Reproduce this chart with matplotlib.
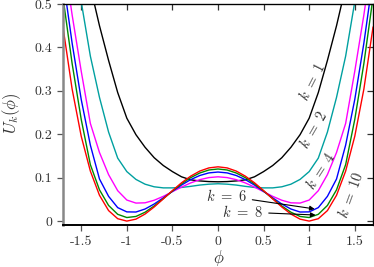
import matplotlib
matplotlib.use("Agg")
import matplotlib.pyplot as plt

# Values
phi = [-1.7, -1.6, -1.5, -1.4, -1.3, -1.2, -1.1, -1.0, -0.9, -0.8, -0.7, -0.6,
       -0.5, -0.4, -0.3, -0.2, -0.1, 0.0, 0.1, 0.2, 0.3, 0.4, 0.5, 0.6, 0.7,
       0.8, 0.9, 1.0, 1.1, 1.2, 1.3, 1.4, 1.5, 1.6, 1.7]

u_k1 = [0.80, 0.78, 0.66, 0.54, 0.45, 0.37, 0.296, 0.237, 0.199, 0.170, 0.146,
        0.128, 0.114, 0.102, 0.095, 0.0925, 0.091, 0.0905, 0.091, 0.0925, 0.095,
        0.102, 0.114, 0.128, 0.146, 0.170, 0.199, 0.237, 0.296, 0.37, 0.45,
        0.54, 0.66, 0.78, 0.80]
u_k2 = [0.78, 0.64, 0.505, 0.38, 0.285, 0.205, 0.145, 0.114, 0.096, 0.085,
        0.079, 0.0765, 0.0765, 0.0775, 0.080, 0.083, 0.085, 0.086, 0.085, 0.083,
        0.080, 0.0775, 0.0765, 0.0765, 0.079, 0.085, 0.096, 0.114, 0.145,
        0.205, 0.285, 0.38, 0.505, 0.64, 0.78]
u_k4 = [0.62, 0.475, 0.345, 0.225, 0.158, 0.107, 0.070, 0.0485, 0.0415,
        0.0421, 0.048, 0.057, 0.0677, 0.0783, 0.0879, 0.0954, 0.1002, 0.102,
        0.1002, 0.0954, 0.0879, 0.0783, 0.0677, 0.057, 0.048, 0.0421, 0.0415,
        0.0485, 0.070, 0.107, 0.158, 0.225, 0.345, 0.475, 0.62]
u_k6 = [0.56, 0.41, 0.28, 0.175, 0.097, 0.057, 0.031, 0.0212, 0.0209, 0.0278,
        0.0393, 0.0535, 0.0686, 0.083, 0.0955, 0.105, 0.111, 0.113, 0.111,
        0.105, 0.0955, 0.083, 0.0686, 0.0535, 0.0393, 0.0278, 0.0209, 0.0212,
        0.031, 0.057, 0.097, 0.175, 0.28, 0.41, 0.56]
u_k8 = [0.515, 0.363, 0.234, 0.13, 0.072, 0.036, 0.0156, 0.0082, 0.0107,
        0.0204, 0.0348, 0.0517, 0.0692, 0.0858, 0.100, 0.1108, 0.1177, 0.120,
        0.1177, 0.1108, 0.100, 0.0858, 0.0692, 0.0517, 0.0348, 0.0204, 0.0107,
        0.0082, 0.0156, 0.036, 0.072, 0.13, 0.234, 0.363, 0.515]
u_k10 = [0.4465, 0.3042, 0.1953, 0.1152, 0.0595, 0.0242, 0.0055, 0.0, 0.0045,
         0.0162, 0.0325, 0.0512, 0.0703, 0.0882, 0.1035, 0.1152, 0.1225, 0.125,
         0.1225, 0.1152, 0.1035, 0.0882, 0.0703, 0.0512, 0.0325, 0.0162, 0.0045,
         0.0, 0.0055, 0.0242, 0.0595, 0.1152, 0.1953, 0.3042, 0.4465]

curves = [u_k1, u_k2, u_k4, u_k6, u_k8, u_k10]
colors = ["black", "#00a0a0", "#ff00ff", "#0000ff", "#008a00", "#ff0000"]

xticks = [-1.5, -1, -0.5, 0, 0.5, 1, 1.5]
xtick_labels = ["-1.5", "-1", "-0.5", "0", "0.5", "1", "1.5"]
yticks = [0, 0.1, 0.2, 0.3, 0.4, 0.5]
ytick_labels = ["0", "0.1", "0.2", "0.3", "0.4", "0.5"]

plt.rcParams["mathtext.fontset"] = "cm"
plt.rcParams["font.family"] = ["cmr10", "DejaVu Serif"]
plt.rcParams["axes.unicode_minus"] = False

fig = plt.figure(figsize=(3.74, 2.67), dpi=100)
ax = fig.add_axes([63 / 374, 1 - 225 / 267, 310 / 374, 221 / 267])

for u, c in zip(curves, colors):
    ax.plot(phi, u, color=c, lw=1.0)

ax.set_xlim(-1.7, 1.7)
ax.set_ylim(-0.009, 0.5)

ax.set_xticks(xticks)
ax.set_xticklabels(xtick_labels)
ax.set_yticks(yticks)
ax.set_yticklabels(ytick_labels)
ax.tick_params(direction="out", length=4, width=0.9, labelsize=10,
               labelcolor="#333333", color="#555555")

# mirrored inward ticks on top and right
top = ax.secondary_xaxis("top")
top.set_xticks(xticks)
top.tick_params(direction="in", length=4, width=0.9, labeltop=False, color="#333333")
right = ax.secondary_yaxis("right")
right.set_yticks(yticks)
right.tick_params(direction="in", length=4, width=0.9, labelright=False, color="#333333")

ax.spines["left"].set_color("#888888")
ax.spines["left"].set_linewidth(1.8)
ax.spines["bottom"].set_linewidth(1.4)
for s in ["top", "right"]:
    ax.spines[s].set_linewidth(0.9)

ax.set_xlabel(r"$\phi$", fontsize=12, color="#333333")
ax.set_ylabel(r"$U_k(\phi)$", fontsize=12, color="#333333")
ax.xaxis.set_label_coords(0.503, -0.103)
ax.yaxis.set_label_coords(-0.128, 0.507)

# curve labels
lab = dict(fontsize=10.5, color="#333333", ha="center", va="center")
ax.text(1.03, 0.32, r"$k\ =\ 1$", rotation=63, **lab)
ax.text(1.05, 0.21, r"$k\ =\ 2$", rotation=60, **lab)
ax.text(1.12, 0.115, r"$k\ =\ 4$", rotation=57, **lab)
ax.text(1.46, 0.06, r"$k\ =\ 10$", rotation=70, **lab)

arrow = dict(arrowstyle="-|>", color="black", lw=0.8, mutation_scale=7,
             shrinkA=2, shrinkB=0)
ax.annotate(r"$k\ =\ 6$", xy=(1.06, 0.028), xytext=(0.09, 0.058),
            arrowprops=arrow, **lab)
ax.annotate(r"$k\ =\ 8$", xy=(1.07, 0.014), xytext=(0.27, 0.021),
            arrowprops=arrow, **lab)

fig.savefig("out.png", dpi=100)
